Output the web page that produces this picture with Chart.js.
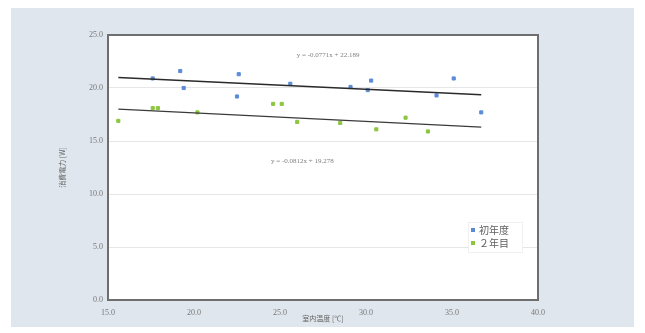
<!DOCTYPE html>
<html>
<head>
<meta charset="utf-8">
<script src="https://cdn.jsdelivr.net/npm/chart.js@4/dist/chart.umd.min.js"></script>
<style>
  body { margin: 0; background: #fff; }
  #wrap { width: 645px; height: 333px; }
</style>
</head>
<body>
<div id="wrap"><canvas id="c"></canvas></div>
<script>
// 初年度 (x: 室内温度, y: value)
const year1X = [17.6, 19.2, 19.4, 22.6, 22.5, 25.6, 29.1, 30.3, 30.1, 34.1, 35.1, 36.7];
const year1Y = [20.9, 21.6, 20.0, 21.3, 19.2, 20.4, 20.1, 20.7, 19.8, 19.3, 20.9, 17.7];
// 2年目
const year2X = [15.6, 17.6, 17.9, 20.2, 24.6, 25.1, 26.0, 28.5, 30.6, 32.3, 33.6];
const year2Y = [16.9, 18.1, 18.1, 17.7, 18.5, 18.5, 16.8, 16.7, 16.1, 17.2, 15.9];
// trend line end points
const trend1X = [15.6, 36.7];
const trend1Y = [20.99, 19.36];
const trend2X = [15.6, 36.7];
const trend2Y = [18.01, 16.30];
const eq1 = 'y = -0.0771x + 22.189';
const eq2 = 'y = -0.0812x + 19.278';
const legendLabels = ['初年度', '２年目'];
const xTicks = [15, 20, 25, 30, 35, 40];
const yTicks = [0, 5, 10, 15, 20, 25];

const toPts = (xs, ys) => xs.map((x, i) => ({x: x, y: ys[i]}));

const bgPlugin = {
  id: 'bg',
  beforeDraw(chart) {
    const ctx = chart.ctx;
    const a = chart.chartArea;
    ctx.save();
    ctx.fillStyle = '#e0e6ed';
    ctx.fillRect(11, 8, 623, 319);
    ctx.fillStyle = '#ffffff';
    ctx.fillRect(a.left, a.top, a.right - a.left, a.bottom - a.top);
    ctx.restore();
  },
  beforeDatasetsDraw(chart) {
    const ctx = chart.ctx;
    const a = chart.chartArea;
    ctx.save();
    ctx.strokeStyle = '#6e6e6e';
    ctx.lineWidth = 2;
    ctx.strokeRect(a.left, a.top, a.right - a.left, a.bottom - a.top);
    ctx.restore();
  },
  afterDraw(chart) {
    const ctx = chart.ctx;
    const xs = chart.scales.x, ys = chart.scales.y;
    ctx.save();
    ctx.fillStyle = '#808080';
    ctx.font = '7px "Liberation Serif"';
    ctx.textAlign = 'center';
    ctx.textBaseline = 'middle';
    ctx.fillText(eq1, xs.getPixelForValue(27.8), ys.getPixelForValue(23.1));
    ctx.fillText(eq2, xs.getPixelForValue(26.3), ys.getPixelForValue(13.1));

    // legend
    const lx = 468, ly = 222;
    ctx.fillStyle = '#ffffff';
    ctx.fillRect(lx, ly, 54, 30);
    ctx.strokeStyle = '#f0f0f0';
    ctx.lineWidth = 1;
    ctx.strokeRect(lx + 0.5, ly + 0.5, 54, 30);
    ctx.font = '10px "Noto Sans CJK JP"';
    ctx.textAlign = 'left';
    chart.data.datasets.slice(0, 2).forEach((ds, i) => {
      const y = ly + 8 + i * 13;
      ctx.fillStyle = ds.backgroundColor;
      ctx.fillRect(lx + 3, y - 2, 4, 4);
      ctx.fillStyle = '#606060';
      ctx.fillText(legendLabels[i], lx + 11, y);
    });
    ctx.restore();
  }
};

new Chart(document.getElementById('c'), {
  type: 'scatter',
  data: {
    datasets: [
      { label: legendLabels[0], data: toPts(year1X, year1Y), backgroundColor: '#5b8bd6', borderColor: '#5b8bd6',
        pointStyle: 'rect', pointRadius: 2.2, order: 1 },
      { label: legendLabels[1], data: toPts(year2X, year2Y), backgroundColor: '#8cc63e', borderColor: '#8cc63e',
        pointStyle: 'rect', pointRadius: 2.2, order: 1 },
      { type: 'line', data: toPts(trend1X, trend1Y), borderColor: '#2a2a2a', borderWidth: 1.6,
        pointRadius: 0, fill: false, order: 0 },
      { type: 'line', data: toPts(trend2X, trend2Y), borderColor: '#3a3a3a', borderWidth: 1.2,
        pointRadius: 0, fill: false, order: 0 }
    ]
  },
  options: {
    responsive: true,
    maintainAspectRatio: false,
    animation: false,
    layout: { padding: { left: 0, top: 35, right: 107, bottom: 0 } },
    plugins: { legend: { display: false }, tooltip: { enabled: false } },
    scales: {
      x: {
        type: 'linear', min: 15, max: 40,
        afterBuildTicks: (s) => { s.ticks = xTicks.map(v => ({value: v})); },
        afterFit: (s) => { s.height = 33; },
        grid: { display: false, drawTicks: false },
        border: { display: false },
        ticks: { padding: 8, color: '#777', font: { family: 'Liberation Serif', size: 8 },
                 callback: (v) => v.toFixed(1), maxRotation: 0 },
        title: { display: true, text: '室内温度 [℃]', color: '#666',
                 font: { family: 'Noto Sans CJK JP', size: 7 }, padding: { top: 0, bottom: 10 } }
      },
      y: {
        type: 'linear', min: 0, max: 25,
        afterBuildTicks: (s) => { s.ticks = yTicks.map(v => ({value: v})); },
        afterFit: (s) => { s.width = 108; },
        grid: { color: '#e6e6e6', lineWidth: 1, drawTicks: false },
        border: { display: false },
        ticks: { padding: 5, color: '#777', font: { family: 'Liberation Serif', size: 8 },
                 callback: (v) => v.toFixed(1) },
        title: { display: true, text: '消費電力 [W]', color: '#666',
                 font: { family: 'Noto Sans CJK JP', size: 7 }, padding: { top: 58, bottom: 0 } }
      }
    }
  },
  plugins: [bgPlugin]
});
</script>
</body>
</html>
